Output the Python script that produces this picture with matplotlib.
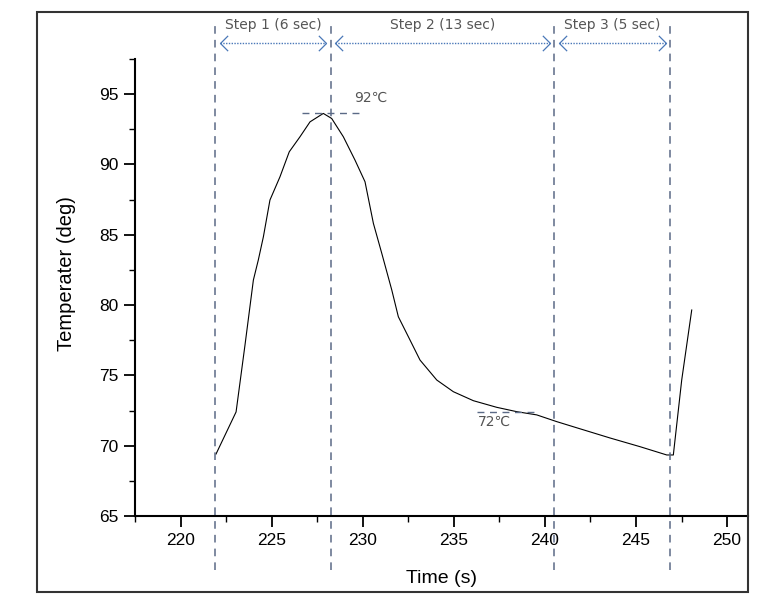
import matplotlib
matplotlib.use("Agg")
import matplotlib.pyplot as plt
from matplotlib.path import Path
from matplotlib.patches import Rectangle
from matplotlib.ticker import MultipleLocator
import matplotlib.transforms as mtransforms

plt.rcParams['font.family'] = ['Liberation Sans', 'DejaVu Sans']

# ---- data ----
time_s = [221.94, 223.04, 223.53, 223.99, 224.26, 224.54, 224.90, 225.45, 225.96,
          226.55, 227.10, 227.83, 228.29, 228.93, 229.57, 230.12, 230.58, 231.04,
          231.59, 231.95, 232.50, 233.14, 234.06, 234.97, 236.07, 237.35, 238.45,
          239.55, 240.65, 241.83, 243.57, 245.22, 246.69, 247.05, 247.51, 248.06]
temp = [69.41, 72.40, 77.16, 81.78, 83.20, 84.86, 87.47, 89.12, 90.90,
        91.97, 93.03, 93.63, 93.27, 91.97, 90.31, 88.77, 85.81, 83.68,
        81.07, 79.17, 77.75, 76.09, 74.67, 73.84, 73.20, 72.73, 72.42,
        72.19, 71.71, 71.24, 70.55, 69.93, 69.34, 69.34, 74.67, 79.65]
step_bounds = [221.88, 228.24, 240.52, 246.87]
step_labels = ["Step 1 (6 sec)", "Step 2 (13 sec)", "Step 3 (5 sec)"]
peak_temp = 93.63
peak_label = "92\u2103"
plateau_temp = 72.42
plateau_label = "72\u2103"
x_ticks = [220, 225, 230, 235, 240, 245, 250]
y_ticks = [65, 70, 75, 80, 85, 90, 95]

W, H = 777, 600
fig = plt.figure(figsize=(W / 100, H / 100), dpi=100)
ax = fig.add_axes([135 / W, 1 - 516 / H, (748 - 135) / W, (516 - 59) / H])

ax.plot(time_s, temp, color='black', lw=0.8)

ax.set_xlim(217.49, 251.15)
ax.set_ylim(65, 97.5)
ax.set_xticks(x_ticks)
ax.set_yticks(y_ticks)
ax.xaxis.set_minor_locator(MultipleLocator(2.5))
ax.yaxis.set_minor_locator(MultipleLocator(2.5))
ax.tick_params(which='major', direction='out', length=8, width=1.3, labelsize=12.5, pad=4)
ax.tick_params(which='minor', direction='out', length=4, width=1.0)
for s in ['top', 'right']:
    ax.spines[s].set_visible(False)
for s in ['left', 'bottom']:
    ax.spines[s].set_linewidth(1.5)

ax.set_xlabel("Time (s)", fontsize=14, labelpad=16)
ax.set_ylabel("Temperater (deg)", fontsize=14.5)
ax.yaxis.set_label_coords(-0.097, 0.53)

trans = mtransforms.blended_transform_factory(ax.transData, ax.transAxes)
dash_col = '#5b6a86'
for xb in step_bounds:
    ax.plot([xb, xb], [-0.118, 1.081], transform=trans, color=dash_col,
            lw=1.1, ls=(0, (5, 4)), clip_on=False)

arrow_col = '#4a78b8'
chev_l = Path([(1, 1), (0, 0), (1, -1)], [Path.MOVETO, Path.LINETO, Path.LINETO])
chev_r = Path([(-1, 1), (0, 0), (-1, -1)], [Path.MOVETO, Path.LINETO, Path.LINETO])
ya = 1.035
yt = 1.074
for i, lab in enumerate(step_labels):
    x0 = step_bounds[i] + 0.25
    x1 = step_bounds[i + 1] - 0.25
    ax.plot([x0, x1], [ya, ya], transform=trans, color=arrow_col, lw=1.0,
            ls=(0, (1, 1)), clip_on=False)
    ax.plot([x0], [ya], transform=trans, marker=chev_l, ms=11, mew=0.9,
            mec=arrow_col, mfc='none', ls='none', clip_on=False)
    ax.plot([x1], [ya], transform=trans, marker=chev_r, ms=11, mew=0.9,
            mec=arrow_col, mfc='none', ls='none', clip_on=False)
    ax.text((step_bounds[i] + step_bounds[i + 1]) / 2, yt, lab, transform=trans,
            ha='center', va='center', fontsize=10, color='#555555',
            family=['DejaVu Sans'])

# peak annotation
ax.plot([226.65, 229.94], [peak_temp, peak_temp], color=dash_col, lw=1.0,
        ls=(0, (5, 4)))
ax.text(229.52, 94.75, peak_label, fontsize=10, color='#555555',
        ha='left', va='center', family=['DejaVu Sans'])
# plateau annotation
ax.plot([236.27, 239.57], [plateau_temp, plateau_temp], color=dash_col, lw=1.0,
        ls=(0, (5, 4)))
ax.text(236.3, 71.7, plateau_label, fontsize=10, color='#555555',
        ha='left', va='center', family=['DejaVu Sans'])

# outer frame
fig.patches.append(Rectangle((37 / W, 1 - 592 / H), (748 - 37) / W, (592 - 12) / H,
                             transform=fig.transFigure, fill=False,
                             edgecolor='#333333', lw=1.5))

fig.savefig("out.png", dpi=100)
